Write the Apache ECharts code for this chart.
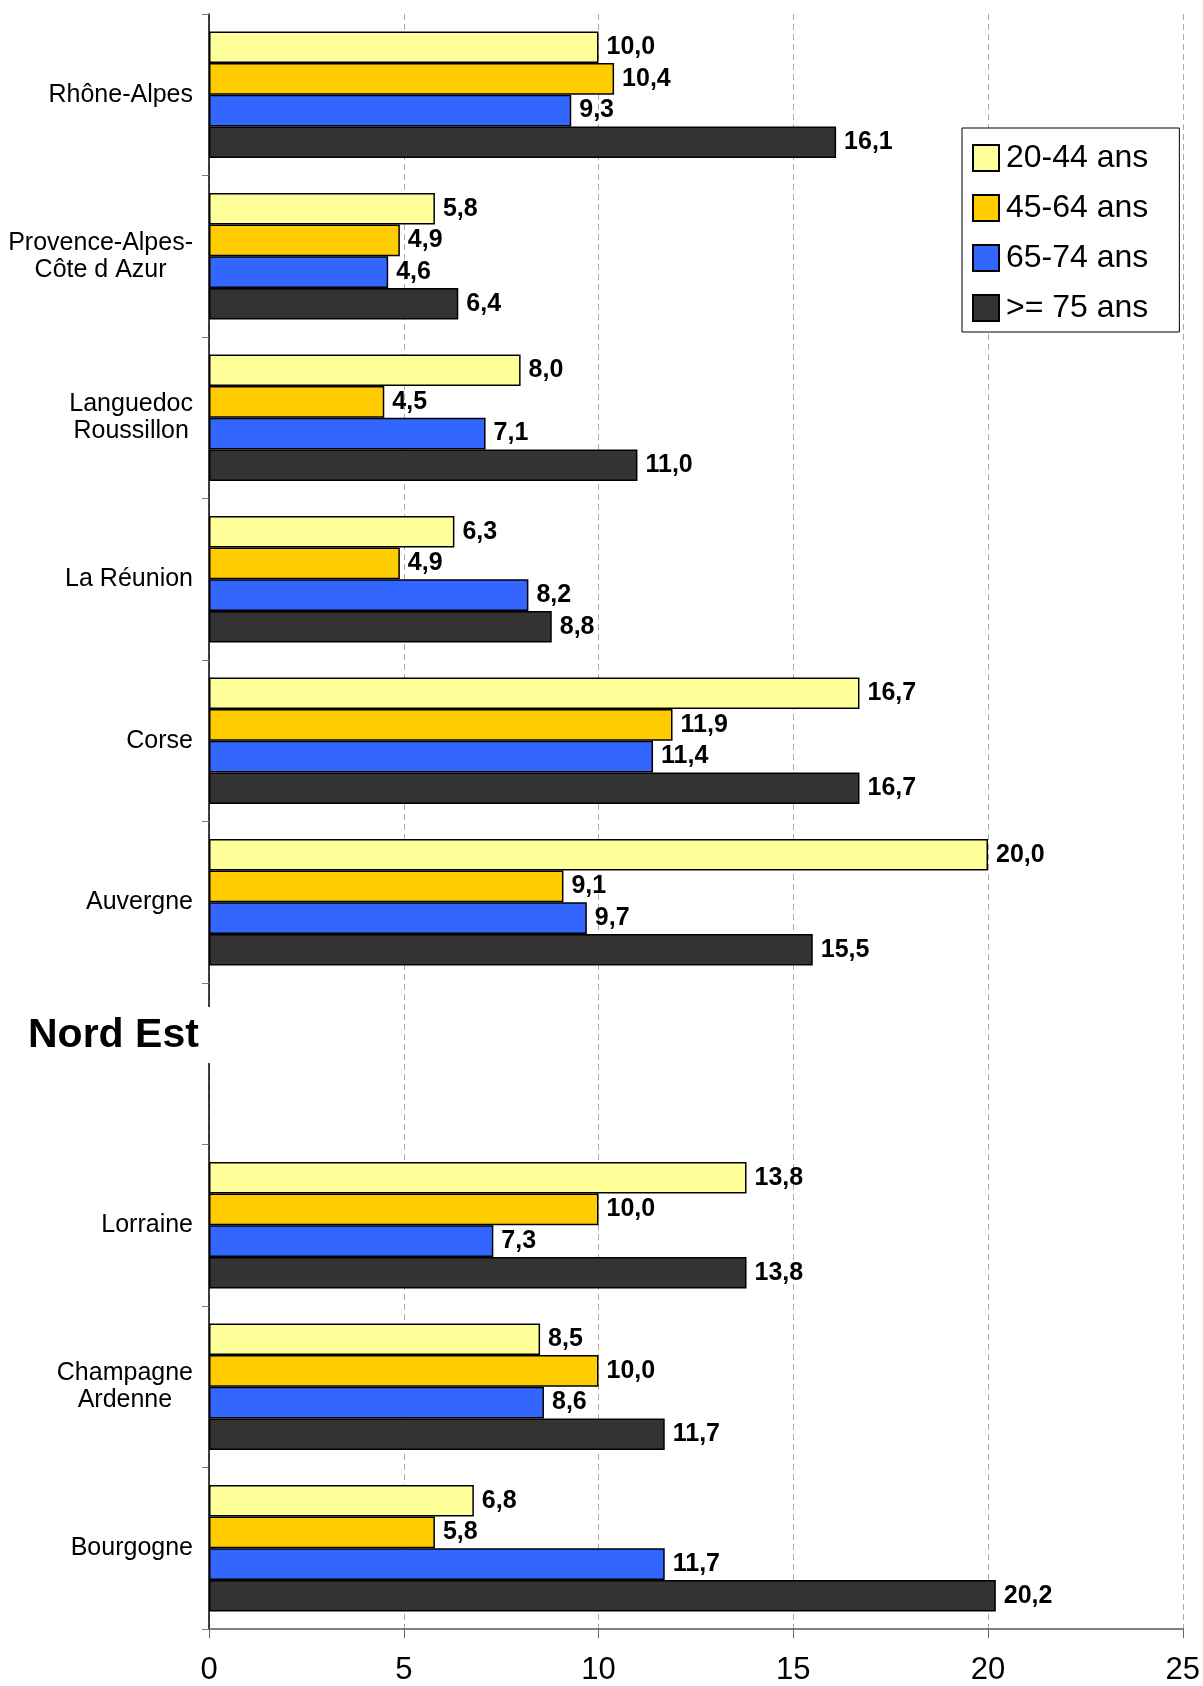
<!DOCTYPE html>
<html>
<head>
<meta charset="utf-8">
<script src="https://cdn.jsdelivr.net/npm/echarts@6/dist/echarts.min.js"></script>
<style>
html, body { margin: 0; padding: 0; background: #fff; }
#chart { width: 1203px; height: 1686px; }
</style>
</head>
<body>
<div id="chart"></div>
<script>
const categories = ['Rhône-Alpes', 'Provence-Alpes-\nCôte d Azur', 'Languedoc\nRoussillon', 'La Réunion', 'Corse', 'Auvergne', '', 'Lorraine', 'Champagne\nArdenne', 'Bourgogne'];
const seriesNames = ['20-44 ans', '45-64 ans', '65-74 ans', '>= 75 ans'];
const age20_44 = [10.0, 5.8, 8.0, 6.3, 16.7, 20.0, null, 13.8, 8.5, 6.8];
const age45_64 = [10.4, 4.9, 4.5, 4.9, 11.9, 9.1, null, 10.0, 10.0, 5.8];
const age65_74 = [9.3, 4.6, 7.1, 8.2, 11.4, 9.7, null, 7.3, 8.6, 11.7];
const age75plus = [16.1, 6.4, 11.0, 8.8, 16.7, 15.5, null, 13.8, 11.7, 20.2];
const xTicks = [0, 5, 10, 15, 20, 25];
const groupTitle = 'Nord Est';

const colors = ['#FFFF99', '#FFCC00', '#3366FF', '#333333'];
const FONT = '"Liberation Sans", Arial, Helvetica, sans-serif';
const allData = [age20_44, age45_64, age65_74, age75plus];

const chart = echarts.init(document.getElementById('chart'), null, { renderer: 'canvas' });

const series = allData.map((d, i) => ({
  name: seriesNames[i],
  type: 'bar',
  data: d,
  barGap: '0%',
  barCategoryGap: '21.6%',
  itemStyle: { color: colors[i], borderColor: '#000', borderWidth: 1.5 },
  label: {
    show: true,
    position: 'right',
    distance: 8,
    color: '#000',
    fontFamily: FONT,
    fontWeight: 'bold',
    fontSize: 25,
    formatter: p => (p.value == null ? '' : Number(p.value).toFixed(1).replace('.', ','))
  },
  emphasis: { disabled: true },
  animation: false
}));

chart.setOption({
  animation: false,
  backgroundColor: '#fff',
  grid: { left: 209, right: 17, top: 14, bottom: 52, containLabel: false },
  legend: {
    show: true,
    orient: 'vertical',
    left: 962,
    top: 128,
    backgroundColor: '#fff',
    borderColor: '#000',
    borderWidth: 1,
    padding: [14, 31, 8, 10],
    itemWidth: 26,
    itemHeight: 26,
    itemGap: 18,
    icon: 'rect',
    textStyle: { fontFamily: FONT, fontSize: 32, color: '#000', lineHeight: 29, padding: [0, 0, 0, 2] },
    data: seriesNames
  },
  xAxis: {
    type: 'value',
    min: 0,
    max: 25,
    interval: 5,
    axisLine: { show: true, lineStyle: { color: '#555', width: 1.5 } },
    axisTick: { show: true, length: 9, lineStyle: { color: '#666' } },
    axisLabel: {
      margin: 26,
      fontFamily: FONT,
      fontSize: 31,
      color: '#000',
      formatter: v => (xTicks.indexOf(v) >= 0 ? String(v) : '')
    },
    splitLine: { show: true, lineStyle: { color: '#aaa', type: [6, 4], width: 1 } }
  },
  yAxis: {
    type: 'category',
    inverse: true,
    data: categories,
    axisLine: { show: true, lineStyle: { color: '#000', width: 1.5 } },
    axisTick: { show: true, length: 7, inside: false, lineStyle: { color: '#777' } },
    axisLabel: {
      margin: 16,
      align: 'right',
      fontFamily: FONT,
      fontSize: 25,
      color: '#000',
      formatter: v => (v ? v.split('\n').map(l => '{c|' + l + '}').join('\n') : ''),
      rich: { c: { align: 'center', fontFamily: FONT, fontSize: 25, color: '#000', lineHeight: 27 } }
    },
    splitLine: { show: false }
  },
  graphic: [
    { type: 'rect', z: 100, shape: { x: 202, y: 1007, width: 13, height: 56 }, style: { fill: '#fff' } },
    { type: 'text', z: 101, x: 28, y: 1036, style: { text: groupTitle, fill: '#000', font: 'bold 41px ' + FONT, verticalAlign: 'middle', align: 'left' } }
  ],
  series: series
});
</script>
</body>
</html>
